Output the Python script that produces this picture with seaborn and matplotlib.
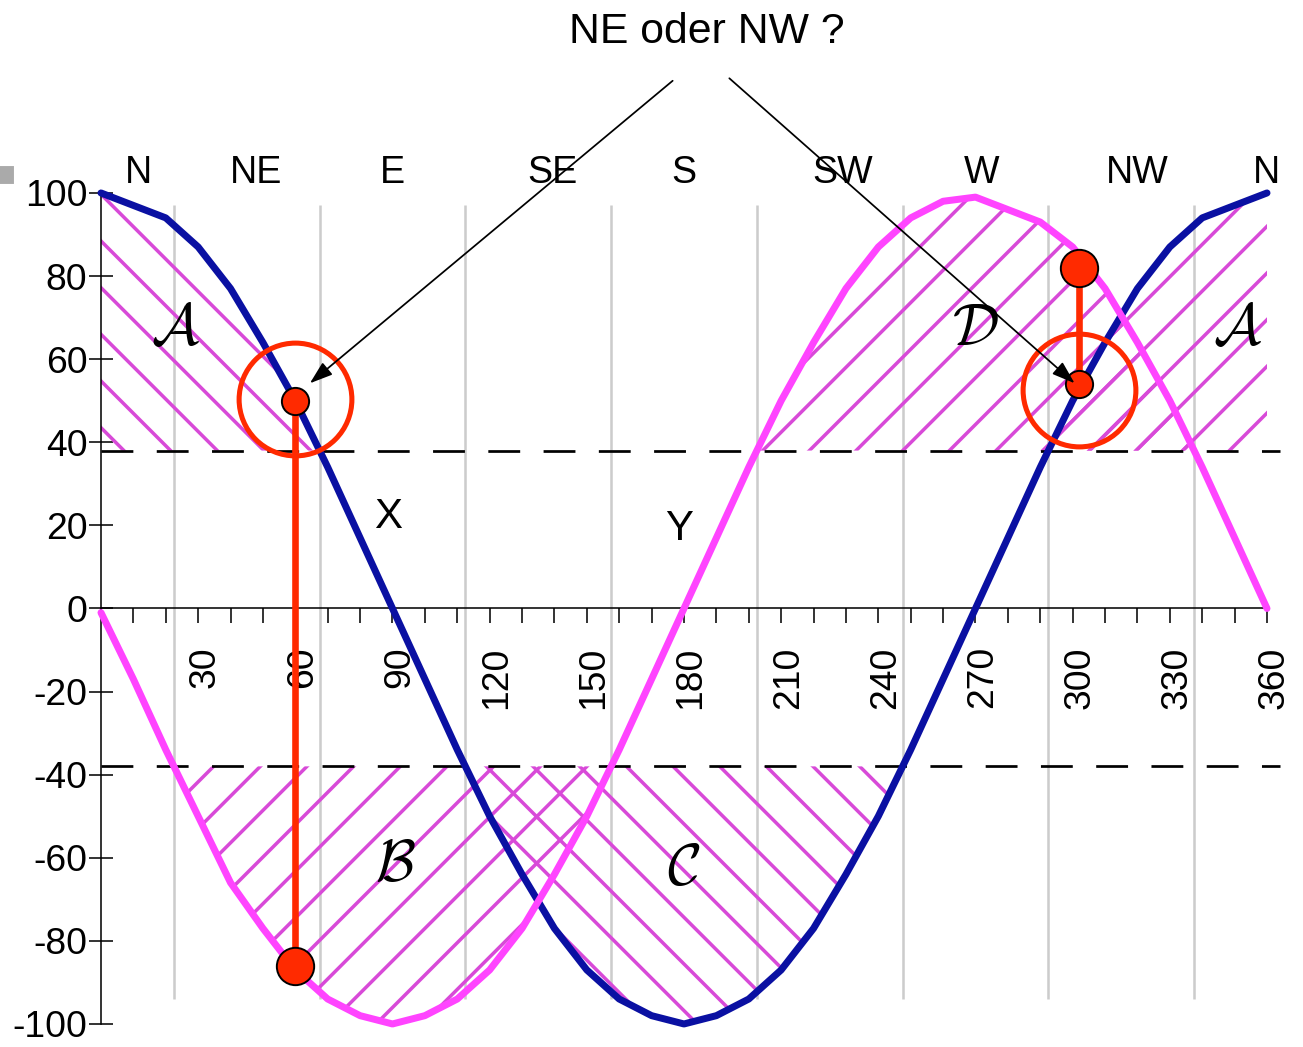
import matplotlib
matplotlib.use("Agg")
import matplotlib.pyplot as plt
import seaborn as sns
import numpy as np
import pandas as pd
from matplotlib.patches import Rectangle
from matplotlib.transforms import ScaledTranslation
from matplotlib.ticker import FixedLocator

# Winkel in Grad und die beiden Kurven
winkel = [0, 10, 20, 30, 40, 50, 60, 70, 80, 90, 100, 110, 120, 130, 140, 150, 160, 170, 180,
          190, 200, 210, 220, 230, 240, 250, 260, 270, 280, 290, 300, 310, 320, 330, 340, 350, 360]
blau = [100, 97, 94, 87, 77, 64, 50, 34, 17, 0, -17, -34, -50, -64, -77, -87, -94, -98, -100,
        -98, -94, -87, -77, -64, -50, -34, -17, 0, 17, 34, 50, 64, 77, 87, 94, 97, 100]
magenta = [-1, -17, -34, -50, -66, -77, -87, -94, -98, -100, -98, -94, -87, -77, -64, -50, -34, -17, 0,
           17, 34, 50, 64, 77, 87, 94, 98, 99, 96, 93, 87, 77, 64, 50, 34, 17, 0]

richtungen = ["N", "NE", "E", "SE", "S", "SW", "W", "NW", "N"]
richtung_x = [11.5, 48, 90, 139.5, 180, 229, 272, 320, 360]

sektor_grenzen = [22.5, 67.5, 112.5, 157.5, 202.5, 247.5, 292.5, 337.5]
schwelle = 38

x_major = [30, 60, 90, 120, 150, 180, 210, 240, 270, 300, 330, 360]
x_minor = [10, 20, 40, 50, 70, 80, 100, 110, 130, 140, 160, 170, 190, 200,
           220, 230, 250, 260, 280, 290, 310, 320, 340, 350]
y_ticks = [-100, -80, -60, -40, -20, 0, 20, 40, 60, 80, 100]

# Ablesungen NE / NW
ne_x, ne_oben, ne_unten = 60, 50, -86
nw_x, nw_oben, nw_unten = 302, 82, 54

# Flaechen-Beschriftungen
flaechen = [r"$\mathcal{A}$", r"$\mathcal{D}$", r"$\mathcal{A}$", r"$\mathcal{B}$", r"$\mathcal{C}$"]
flaechen_x = [23, 270, 351, 91, 180]
flaechen_y = [67, 67, 67, -62, -63]

BLAU = "#0a10a2"
MAGENTA = "#ff44ff"
SCHRAFFUR = "#d84ad8"
ROT = "#ff2a00"
DPI = 280

sns.set_style("white")
plt.rcParams["font.family"] = ["Liberation Sans", "DejaVu Sans"]
plt.rcParams["mathtext.fontset"] = "cm"
plt.rcParams["axes.unicode_minus"] = False
plt.rcParams["hatch.linewidth"] = 0.9
plt.rcParams["text.color"] = "black"
plt.rcParams["xtick.color"] = "black"
plt.rcParams["ytick.color"] = "black"

df = pd.DataFrame({"winkel": winkel, "blau": blau, "magenta": magenta})
w = np.array(winkel)
b = np.array(blau)
m = np.array(magenta)

fig = plt.figure(figsize=(1303 / DPI, 1047 / DPI), dpi=DPI)
ax = fig.add_axes([0.0775, 0.022, 0.9073, 0.7937])

# schraffierte Flaechen
ax.fill_between(w, schwelle, b, where=(b >= schwelle) & (w <= 180), interpolate=True,
                facecolor="none", edgecolor=SCHRAFFUR, hatch="\\\\", linewidth=0, zorder=1)
ax.fill_between(w, schwelle, b, where=(b >= schwelle) & (w >= 180), interpolate=True,
                facecolor="none", edgecolor=SCHRAFFUR, hatch="//", linewidth=0, zorder=1)
ax.fill_between(w, schwelle, m, where=m >= schwelle, interpolate=True,
                facecolor="none", edgecolor=SCHRAFFUR, hatch="//", linewidth=0, zorder=1)
ax.fill_between(w, -schwelle, m, where=m <= -schwelle, interpolate=True,
                facecolor="none", edgecolor=SCHRAFFUR, hatch="//", linewidth=0, zorder=1)
ax.fill_between(w, -schwelle, b, where=b <= -schwelle, interpolate=True,
                facecolor="none", edgecolor=SCHRAFFUR, hatch="\\\\", linewidth=0, zorder=1)

# Sektorgrenzen und Schwellen
ax.vlines(sektor_grenzen, -94, 97, color="#cccccc", lw=0.65, zorder=0.5)
ax.hlines([schwelle, -schwelle], 0, 364, color="black", lw=0.7,
          linestyles=[(0, (11.7, 8.6))], zorder=2)

# Kurven
sns.lineplot(data=df, x="winkel", y="blau", color=BLAU, lw=1.8, ax=ax, clip_on=False, zorder=3)
sns.lineplot(data=df, x="winkel", y="magenta", color=MAGENTA, lw=1.8, ax=ax, clip_on=False, zorder=3)

# Ablesungen
ax.plot([ne_x, ne_x], [ne_oben, ne_unten], color=ROT, lw=1.7, solid_capstyle="butt", zorder=4)
ax.plot([nw_x, nw_x], [nw_oben, nw_unten], color=ROT, lw=1.7, solid_capstyle="butt", zorder=4)
ax.plot([ne_x, nw_x], [ne_oben, nw_unten], "o", ms=7.0, mfc=ROT, mec="black", mew=0.5, ls="none", zorder=5)
ax.plot([ne_x, nw_x], [ne_unten, nw_oben], "o", ms=9.6, mfc=ROT, mec="black", mew=0.5, ls="none", zorder=5)
ax.plot([ne_x, nw_x], [50.4, 52.5], "o", ms=29, mfc="none", mec=ROT, mew=1.3, ls="none",
        zorder=5, clip_on=False)

# Frage und Pfeile
ax.text(187, 136.2, "NE oder NW ?", ha="center", va="baseline", fontsize=11)
for ziel, start in [((64.5, 54.2), (176.5, 127)), ((300.6, 54.2), (194, 127.6))]:
    ax.annotate("", xy=ziel, xytext=start, annotation_clip=False,
                arrowprops=dict(arrowstyle="-|>,head_length=0.5,head_width=0.17",
                                color="black", lw=0.45, shrinkA=0, shrinkB=0), zorder=6)

for name, xp in zip(richtungen, richtung_x):
    ax.text(xp, 102.5, name, ha="center", va="baseline", fontsize=9.7)

for name, xp, yp in zip(flaechen, flaechen_x, flaechen_y):
    ax.text(xp, yp, name, ha="center", va="center", fontsize=15, zorder=6)

ax.text(88.5, 19.3, "X", ha="center", va="baseline", fontsize=10.8)
ax.text(178.5, 16.4, "Y", ha="center", va="baseline", fontsize=10.8)

# Achsen
ax.set_xlim(0, 365)
ax.set_ylim(-100, 100)
ax.set_xlabel("")
ax.set_ylabel("")
for s in ["top", "right"]:
    ax.spines[s].set_visible(False)
ax.spines["bottom"].set_position(("data", 0))
ax.spines["bottom"].set_bounds(0, 360)
ax.spines["left"].set_bounds(-100, 100)
for s in ["bottom", "left"]:
    ax.spines[s].set_linewidth(0.4)
    ax.spines[s].set_color("black")

ax.xaxis.set_major_locator(FixedLocator(x_major))
ax.xaxis.set_minor_locator(FixedLocator(x_minor))
ax.set_xticklabels([str(v) for v in x_major], rotation=90)
ax.set_yticks(y_ticks)
ax.set_yticklabels([str(v) for v in y_ticks])
ax.tick_params(axis="x", which="both", direction="out", length=3.8, width=0.4,
               color="black", labelcolor="black", pad=5.9, labelsize=9.6, bottom=True)
ax.tick_params(axis="y", direction="inout", length=6.4, width=0.4, color="black",
               labelcolor="black", pad=0.3, labelsize=9.6, left=True)
versatz = ScaledTranslation(7 / DPI, 0, fig.dpi_scale_trans)
for lab in ax.get_xticklabels():
    lab.set_transform(lab.get_transform() + versatz)

# kleines graues Quadrat links oben
fig.patches.append(Rectangle((0, 1 - 182 / 1047), 12 / 1303, 14 / 1047,
                             transform=fig.transFigure, color="#aaaaaa"))

fig.savefig("out.png", dpi=DPI)
